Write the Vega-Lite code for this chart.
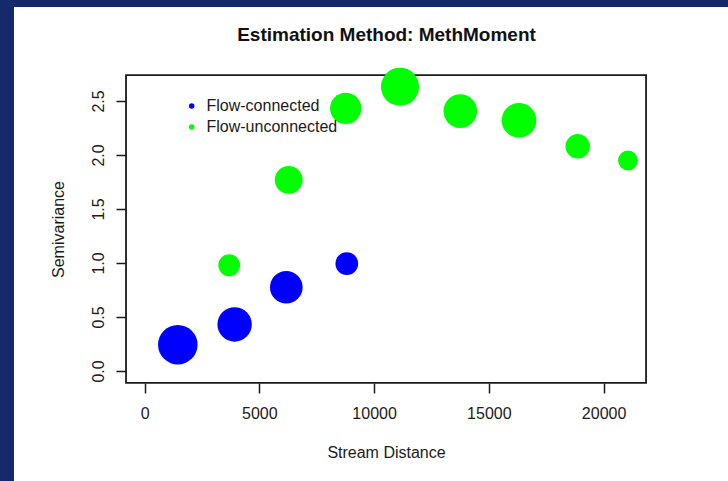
{
  "$schema": "https://vega.github.io/schema/vega-lite/v6.json",
  "width": 714,
  "height": 474,
  "autosize": {"type": "none"},
  "padding": {"left": 14, "top": 7, "right": 0, "bottom": 0},
  "background": "#15296b",
  "config": {"view": {"fill": "white", "stroke": null}, "font": "Liberation Sans"},
  "title": {
    "text": "Estimation Method: MethMoment",
    "fontSize": 19,
    "fontWeight": "bold",
    "font": "Liberation Sans",
    "color": "#111111",
    "anchor": "middle",
    "frame": "group",
    "dx": 15.5,
    "offset": -52.5,
    "baseline": "alphabetic"
  },
  "datasets": {
    "semivariogram": [
      {"type": "Flow-connected", "dist": 1447, "gamma": 0.244, "np": 223},
      {"type": "Flow-connected", "dist": 3922, "gamma": 0.431, "np": 194},
      {"type": "Flow-connected", "dist": 6174, "gamma": 0.775, "np": 184},
      {"type": "Flow-connected", "dist": 8810, "gamma": 0.994, "np": 128},
      {"type": "Flow-unconnected", "dist": 3686, "gamma": 0.979, "np": 123},
      {"type": "Flow-unconnected", "dist": 6279, "gamma": 1.769, "np": 157},
      {"type": "Flow-unconnected", "dist": 8763, "gamma": 2.432, "np": 177},
      {"type": "Flow-unconnected", "dist": 11129, "gamma": 2.632, "np": 215},
      {"type": "Flow-unconnected", "dist": 13756, "gamma": 2.406, "np": 190},
      {"type": "Flow-unconnected", "dist": 16314, "gamma": 2.321, "np": 196},
      {"type": "Flow-unconnected", "dist": 18871, "gamma": 2.08, "np": 138},
      {"type": "Flow-unconnected", "dist": 21063, "gamma": 1.949, "np": 112}
    ]
  },
  "layer": [
    {
      "data": {"values": [{}]},
      "mark": {"type": "rect", "fill": null, "stroke": "#1a1a1a", "strokeWidth": 1.8},
      "encoding": {
        "x": {"datum": -810, "type": "quantitative"},
        "x2": {"datum": 21850},
        "y": {"datum": -0.11, "type": "quantitative"},
        "y2": {"datum": 2.74}
      }
    },
    {
      "data": {"name": "semivariogram"},
      "mark": {"type": "circle", "opacity": 1},
      "encoding": {
        "x": {
          "field": "dist",
          "type": "quantitative",
          "scale": {"domain": [-5691, 25420], "nice": false, "zero": false},
          "axis": {
            "title": "Stream Distance",
            "values": [0, 5000, 10000, 15000, 20000],
            "format": "d",
            "offset": -98,
            "domain": false,
            "grid": false,
            "tickSize": 10,
            "tickWidth": 1.5,
            "tickColor": "#1a1a1a",
            "labelFontSize": 16,
            "labelFont": "Liberation Sans",
            "labelColor": "#1a1a1a",
            "labelPadding": 12,
            "labelBaseline": "top",
            "labelFlush": false,
            "labelOverlap": false,
            "titleFontSize": 16,
            "titleFont": "Liberation Sans",
            "titleFontWeight": "normal",
            "titleColor": "#1a1a1a",
            "titleX": 372,
            "titleY": 74,
            "titleAlign": "center",
            "titleBaseline": "alphabetic"
          }
        },
        "y": {
          "field": "gamma",
          "type": "quantitative",
          "scale": {"domain": [-1.0185, 3.37], "nice": false, "zero": false},
          "axis": {
            "title": "Semivariance",
            "values": [0, 0.5, 1, 1.5, 2, 2.5],
            "format": ".1f",
            "offset": -112,
            "domain": false,
            "grid": false,
            "tickSize": 10,
            "tickWidth": 1.5,
            "tickColor": "#1a1a1a",
            "labelFontSize": 16,
            "labelFont": "Liberation Sans",
            "labelColor": "#1a1a1a",
            "labelAngle": -90,
            "labelAlign": "center",
            "labelBaseline": "alphabetic",
            "labelPadding": 12.5,
            "labelOverlap": false,
            "titleFontSize": 16,
            "titleFont": "Liberation Sans",
            "titleFontWeight": "normal",
            "titleColor": "#1a1a1a",
            "titleX": -62.5,
            "titleY": 222,
            "titleAngle": -90,
            "titleAlign": "center",
            "titleBaseline": "alphabetic"
          }
        },
        "size": {
          "field": "np",
          "type": "quantitative",
          "scale": {"type": "pow", "exponent": 2, "domain": [0, 300], "range": [0, 2827]},
          "legend": null
        },
        "color": {
          "field": "type",
          "type": "nominal",
          "scale": {"domain": ["Flow-connected", "Flow-unconnected"], "range": ["#0000ff", "#00ff00"]},
          "legend": {
            "orient": "none",
            "legendX": 169.7,
            "legendY": 91,
            "title": null,
            "symbolType": "circle",
            "symbolSize": 30,
            "symbolOpacity": 1,
            "symbolStrokeWidth": 0,
            "labelFontSize": 16,
            "labelFont": "Liberation Sans",
            "labelColor": "#1a1a1a",
            "labelOffset": 6.8,
            "rowPadding": 5
          }
        }
      }
    }
  ]
}
